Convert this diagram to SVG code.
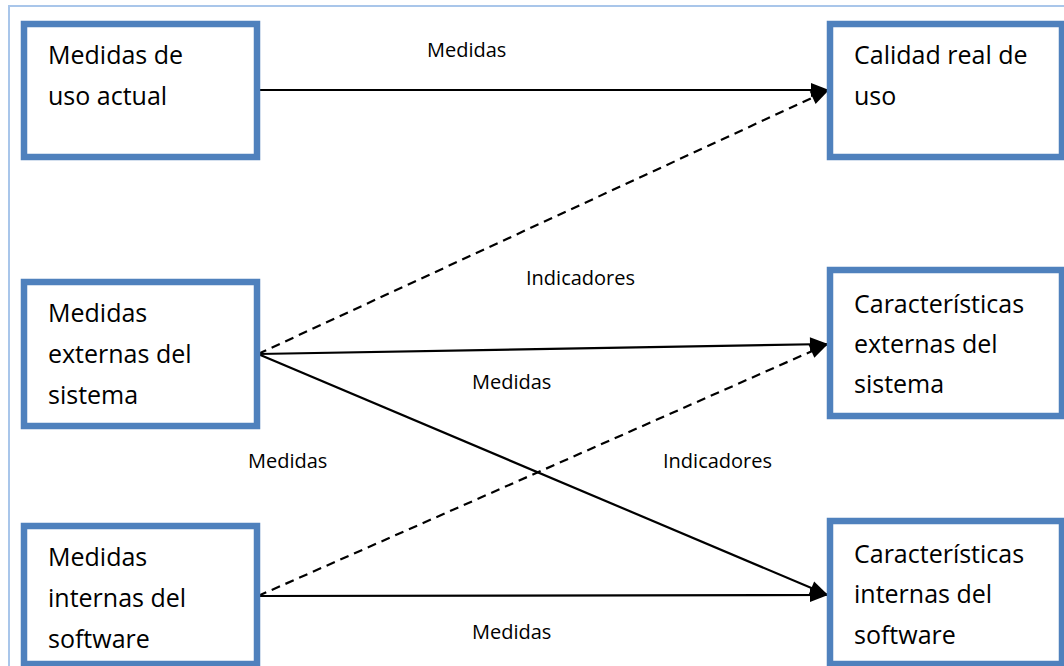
<svg xmlns="http://www.w3.org/2000/svg" width="1064" height="666" viewBox="0 0 1064 666">
  <style>
    .box { fill: #ffffff; stroke: #4f81bd; stroke-width: 6.5; }
    .txt { font-family: "Open Sans", "Liberation Sans", sans-serif; font-size: 25px; fill: #000000; }
    .lbl { font-family: "Open Sans", "Liberation Sans", sans-serif; font-size: 20px; fill: #000000; }
    .edge { fill: none; stroke: #000000; stroke-width: 2.2; }
    .dash { stroke-dasharray: 9 6; }
  </style>
  <defs>
    <marker id="arrow" markerUnits="userSpaceOnUse" markerWidth="20" markerHeight="16" viewBox="0 0 20 16" refX="19" refY="8" orient="auto">
      <path d="M1,1 L19,8 L1,15 Z" fill="#000000"/>
    </marker>
  </defs>

  <rect x="0" y="0" width="1064" height="666" fill="#ffffff"/>
  <!-- page frame -->
  <path d="M9,666 V6 H1064" fill="none" stroke="#a9c6ea" stroke-width="2"/>

  <!-- connectors -->
  <g id="connectors">
    <line class="edge" x1="258" y1="90" x2="829" y2="90" marker-end="url(#arrow)"/>
    <line class="edge dash" x1="258" y1="354" x2="829" y2="90" marker-end="url(#arrow)"/>
    <line class="edge" x1="258" y1="354" x2="828" y2="344" marker-end="url(#arrow)"/>
    <line class="edge" x1="258" y1="354" x2="828" y2="595" marker-end="url(#arrow)"/>
    <line class="edge dash" x1="258" y1="596" x2="828" y2="344" marker-end="url(#arrow)"/>
    <line class="edge" x1="258" y1="596" x2="828" y2="595" marker-end="url(#arrow)"/>
    <text class="lbl" x="427" y="57">Medidas</text>
    <text class="lbl" x="526" y="285">Indicadores</text>
    <text class="lbl" x="472" y="389">Medidas</text>
    <text class="lbl" x="248" y="468">Medidas</text>
    <text class="lbl" x="663" y="468">Indicadores</text>
    <text class="lbl" x="472" y="639">Medidas</text>
  </g>

  <g id="medidas-uso">
    <rect class="box" x="24" y="24" width="233" height="133"/>
    <text class="txt" x="48" y="64">Medidas de</text>
    <text class="txt" x="48" y="105">uso actual</text>
  </g>

  <g id="calidad-uso">
    <rect class="box" x="830" y="24" width="232" height="133"/>
    <text class="txt" x="854" y="64">Calidad real de</text>
    <text class="txt" x="854" y="105">uso</text>
  </g>

  <g id="medidas-externas">
    <rect class="box" x="24" y="282" width="233" height="144"/>
    <text class="txt" x="48" y="322">Medidas</text>
    <text class="txt" x="48" y="363">externas del</text>
    <text class="txt" x="48" y="404">sistema</text>
  </g>

  <g id="caracteristicas-externas">
    <rect class="box" x="830" y="270" width="232" height="146"/>
    <text class="txt" x="854" y="313">Características</text>
    <text class="txt" x="854" y="353">externas del</text>
    <text class="txt" x="854" y="393">sistema</text>
  </g>

  <g id="medidas-internas">
    <rect class="box" x="24" y="526" width="233" height="138"/>
    <text class="txt" x="48" y="566">Medidas</text>
    <text class="txt" x="48" y="607">internas del</text>
    <text class="txt" x="48" y="648">software</text>
  </g>

  <g id="caracteristicas-internas">
    <rect class="box" x="830" y="521" width="232" height="143"/>
    <text class="txt" x="854" y="563">Características</text>
    <text class="txt" x="854" y="603">internas del</text>
    <text class="txt" x="854" y="644">software</text>
  </g>
</svg>
